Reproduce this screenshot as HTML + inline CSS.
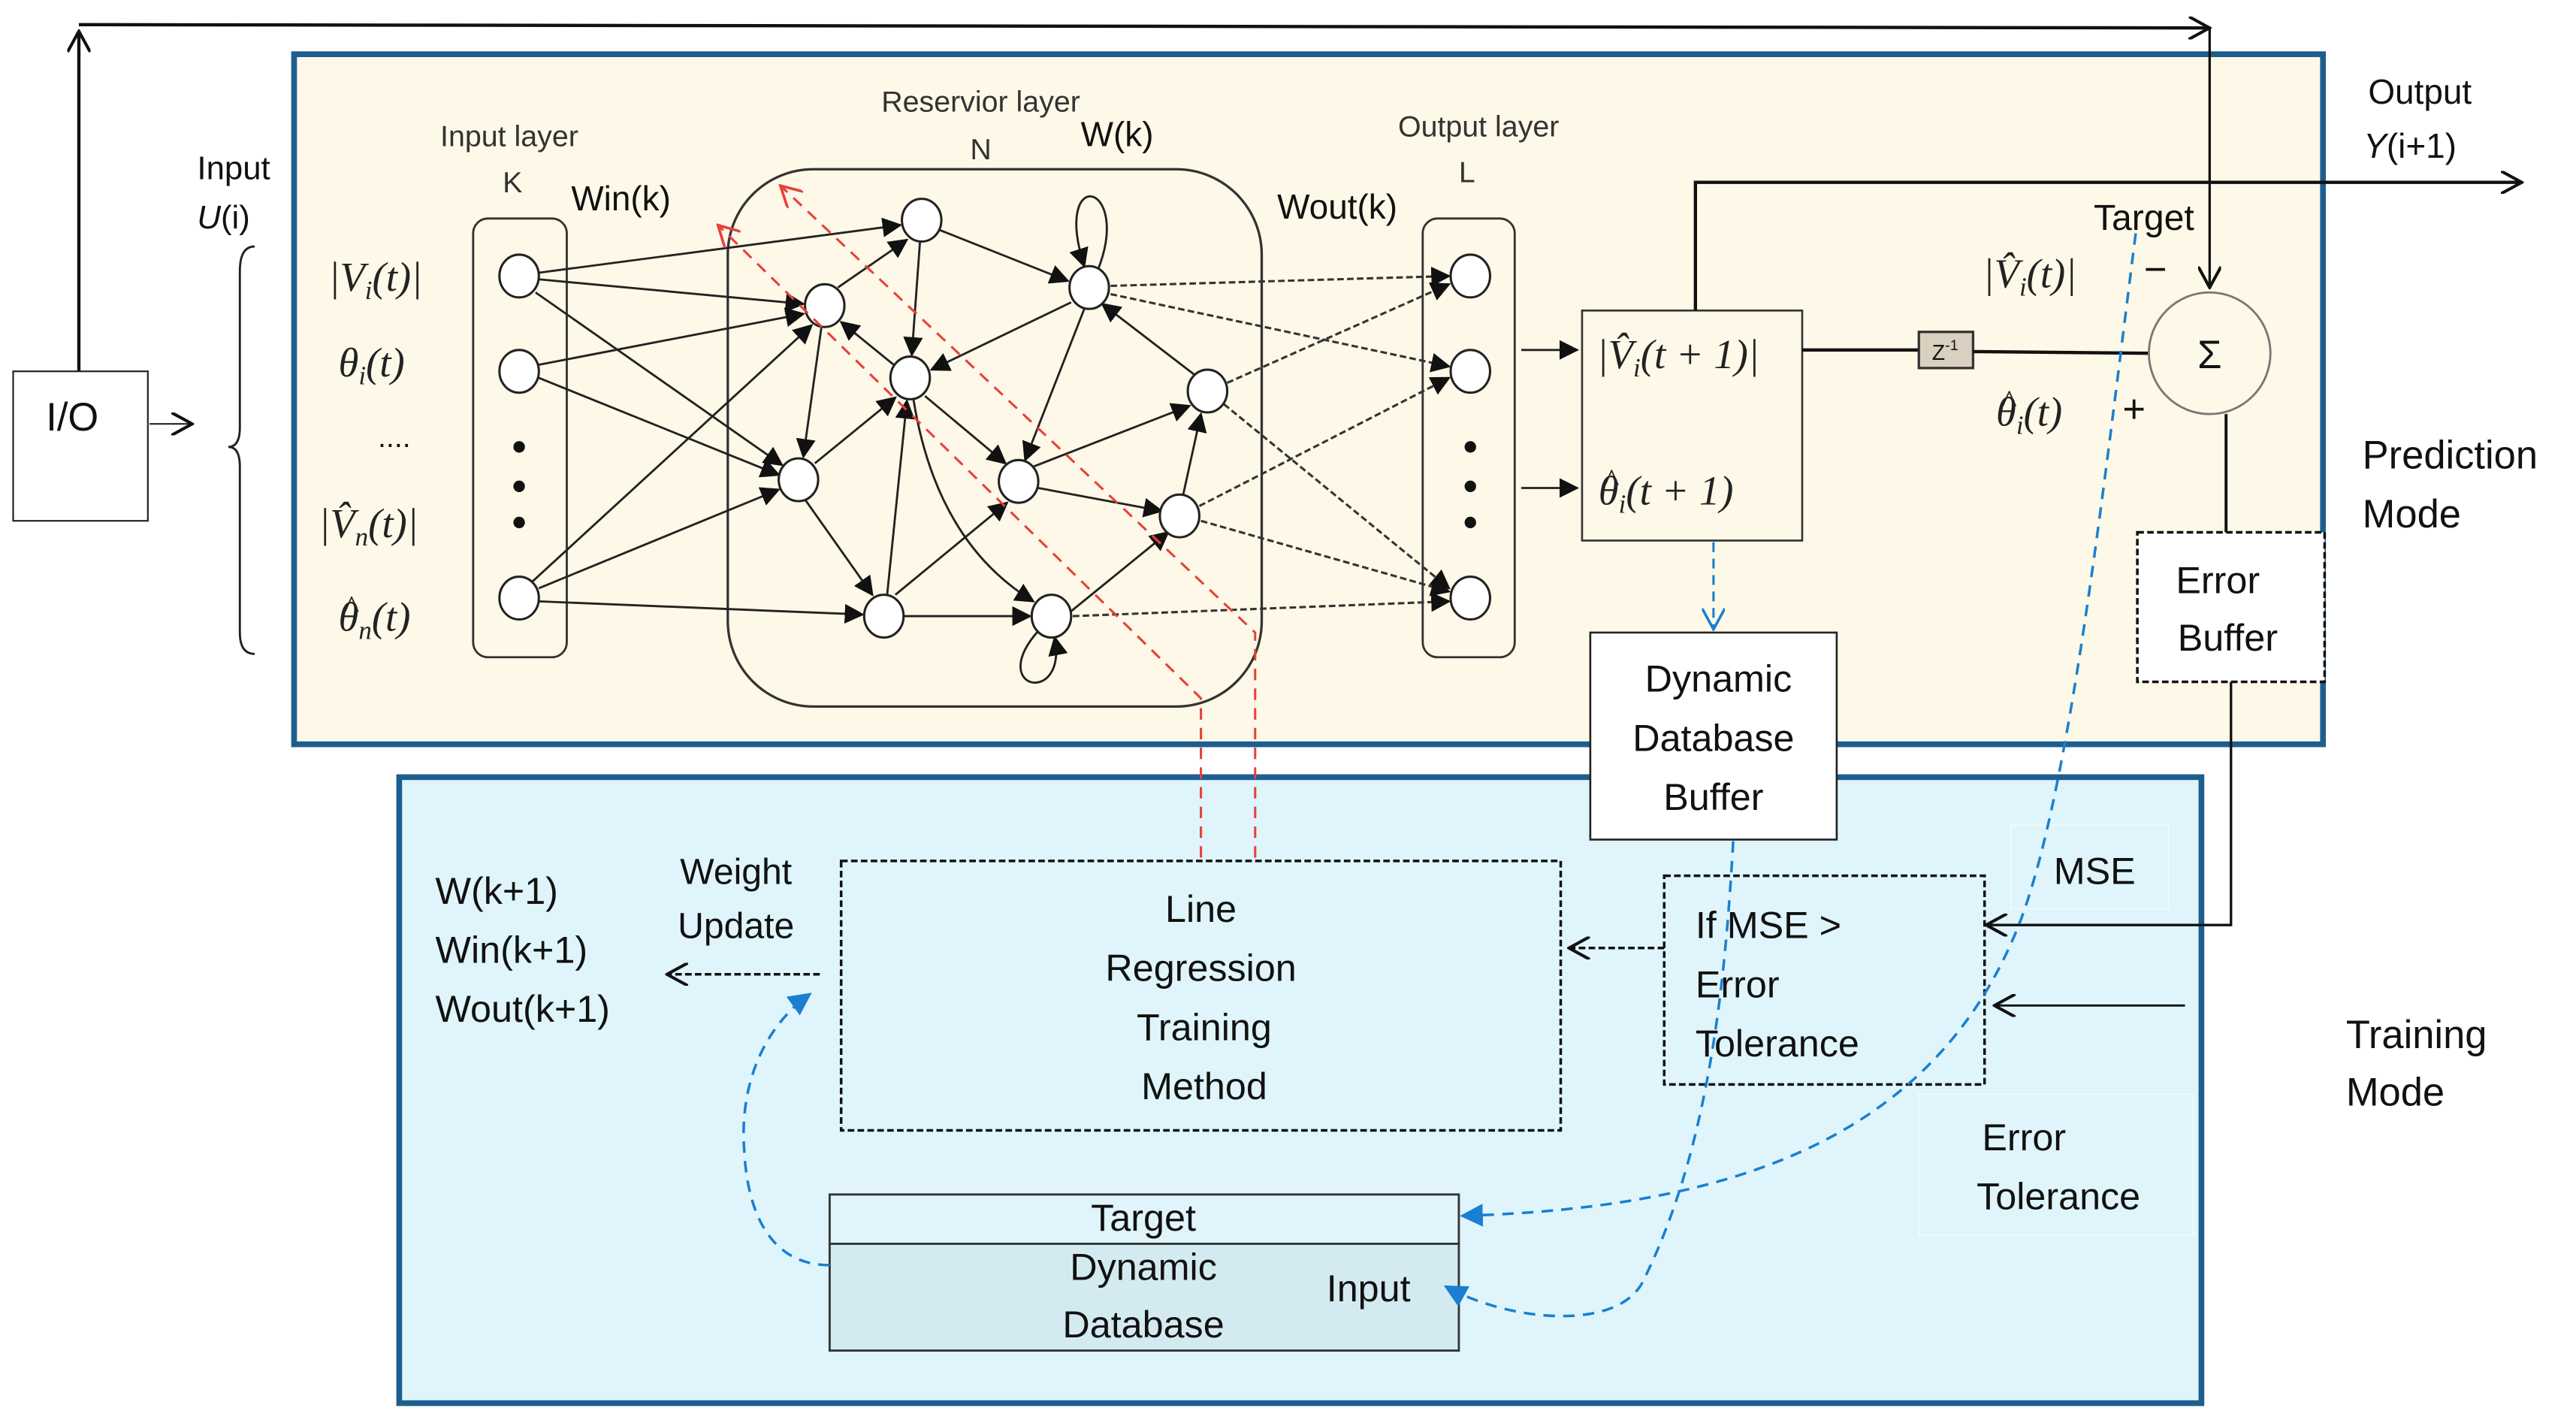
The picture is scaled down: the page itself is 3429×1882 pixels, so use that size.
<!DOCTYPE html>
<html><head><meta charset="utf-8"><style>
html,body{margin:0;padding:0;background:#fff}
svg{display:block}
text{font-family:"Liberation Sans",sans-serif;fill:#111}
.m{font-family:"Liberation Serif",serif;font-style:italic;fill:#222}
.h{font-family:"Liberation Serif",serif;fill:#222}
.s{font-family:"Liberation Sans",sans-serif;fill:#333}
</style></head><body>
<svg width="3429" height="1882" viewBox="0 0 1568 860.6" xmlns="http://www.w3.org/2000/svg">
<defs>
<marker id="fa" viewBox="0 0 10 10" refX="9" refY="5" markerWidth="12" markerHeight="12" orient="auto" markerUnits="userSpaceOnUse"><path d="M0,0 L10,5 L0,10 z" fill="#111"/></marker>
<marker id="oa" viewBox="0 0 12 12" refX="11" refY="6" markerWidth="14" markerHeight="14" orient="auto" markerUnits="userSpaceOnUse"><path d="M0,0 L11,6 L0,12" fill="none" stroke="#111" stroke-width="1.6"/></marker>
<marker id="ra" viewBox="0 0 12 12" refX="11" refY="6" markerWidth="14" markerHeight="14" orient="auto" markerUnits="userSpaceOnUse"><path d="M0,0 L11,6 L0,12" fill="none" stroke="#e8403a" stroke-width="1.4"/></marker>
<marker id="ba" viewBox="0 0 12 12" refX="11" refY="6" markerWidth="14" markerHeight="14" orient="auto" markerUnits="userSpaceOnUse"><path d="M0,0 L11,6 L0,12" fill="none" stroke="#1a7fd0" stroke-width="1.4"/></marker>
<marker id="bf" viewBox="0 0 10 10" refX="9" refY="5" markerWidth="14" markerHeight="14" orient="auto" markerUnits="userSpaceOnUse"><path d="M0,0 L10,5 L0,10 z" fill="#1a7fd0"/></marker>
</defs>

<line x1="48" y1="15" x2="1345" y2="17" stroke="#111" stroke-width="2" marker-end="url(#oa)"/>
<line x1="48" y1="226" x2="48" y2="19" stroke="#111" stroke-width="2" marker-end="url(#oa)"/>
<rect x="8" y="226" width="82" height="91" fill="#fff" stroke="#222" stroke-width="1"/>
<text x="44" y="262" font-size="24" text-anchor="middle">I/O</text>
<line x1="91" y1="258" x2="117" y2="258" stroke="#222" stroke-width="1" marker-end="url(#oa)"/>
<text x="120" y="109" font-size="20">Input</text>
<text x="120" y="139" font-size="20"><tspan font-style="italic">U</tspan>(i)</text>
<path d="M155,150 Q146,150 146,165 L146,260 Q146,272 139,272 Q146,272 146,284 L146,385 Q146,398 155,398" fill="none" stroke="#222" stroke-width="1.3"/>

<rect x="179" y="33" width="1235" height="420" fill="#fdf8e7" stroke="#1d5e8e" stroke-width="3.5"/>
<rect x="243" y="473" width="1097" height="381" fill="#dff5fb" stroke="#1d5e8e" stroke-width="3.5"/>

<rect x="288" y="133" width="57" height="267" rx="9" fill="none" stroke="#333" stroke-width="1.3"/>
<rect x="866" y="133" width="56" height="267" rx="9" fill="none" stroke="#333" stroke-width="1.3"/>
<rect x="443" y="103" width="325" height="327" rx="52" fill="none" stroke="#333" stroke-width="1.5"/>

<text x="310" y="89" font-size="18" text-anchor="middle" class="s">Input layer</text>
<text x="312" y="117" font-size="18" text-anchor="middle" class="s">K</text>
<text x="378" y="128" font-size="21" text-anchor="middle">Win(k)</text>
<text x="597" y="68" font-size="18" text-anchor="middle" class="s">Reservior layer</text>
<text x="597" y="97" font-size="18" text-anchor="middle" class="s">N</text>
<text x="680" y="89" font-size="21" text-anchor="middle">W(k)</text>
<text x="900" y="83" font-size="18" text-anchor="middle" class="s">Output layer</text>
<text x="893" y="111" font-size="18" text-anchor="middle" class="s">L</text>
<text x="814" y="133" font-size="21" text-anchor="middle">Wout(k)</text>

<text x="200" y="177" font-size="25" class="m">|V<tspan font-size="16" dy="5">i</tspan><tspan dy="-5">(t)|</tspan></text>
<text x="206" y="229" font-size="25" class="m">θ<tspan font-size="16" dy="5">i</tspan><tspan dy="-5">(t)</tspan></text>
<text x="240" y="272" font-size="18" text-anchor="middle">....</text>
<text x="194" y="327" font-size="25" class="m">|V̂<tspan font-size="16" dy="5">n</tspan><tspan dy="-5">(t)|</tspan></text>
<text x="206" y="384" font-size="25" class="m">θ<tspan font-size="16" dy="5">n</tspan><tspan dy="-5">(t)</tspan></text>
<text x="214" y="376" font-size="20" class="h" text-anchor="middle">^</text>

<g stroke="#222" stroke-width="1.3" fill="none" marker-end="url(#fa)">
<line x1="328" y1="166" x2="548" y2="137"/>
<line x1="328" y1="170" x2="489" y2="185"/>
<line x1="326" y1="178" x2="476" y2="283"/>
<line x1="328" y1="222" x2="489" y2="191"/>
<line x1="328" y1="230" x2="474" y2="289"/>
<line x1="324" y1="354" x2="494" y2="198"/>
<line x1="328" y1="358" x2="474" y2="298"/>
<line x1="328" y1="366" x2="525" y2="374"/>
<line x1="510" y1="175" x2="552" y2="146"/>
<line x1="560" y1="147" x2="555" y2="216"/>
<line x1="572" y1="140" x2="650" y2="171"/>
<line x1="652" y1="184" x2="567" y2="225"/>
<line x1="500" y1="199" x2="489" y2="278"/>
<line x1="544" y1="222" x2="512" y2="196"/>
<line x1="496" y1="282" x2="545" y2="242"/>
<line x1="490" y1="304" x2="531" y2="362"/>
<line x1="540" y1="362" x2="552" y2="244"/>
<line x1="563" y1="241" x2="612" y2="282"/>
<line x1="545" y1="362" x2="613" y2="306"/>
<line x1="632" y1="297" x2="707" y2="311"/>
<line x1="629" y1="284" x2="724" y2="247"/>
<line x1="660" y1="188" x2="624" y2="280"/>
<line x1="727" y1="228" x2="671" y2="185"/>
<line x1="720" y1="302" x2="731" y2="252"/>
<line x1="549" y1="375" x2="627" y2="375"/>
<line x1="652" y1="372" x2="711" y2="324"/>
<path d="M556,243 Q570,330 629,366"/>
<path d="M668,165 C690,110 640,100 660,162"/>
<path d="M632,384 C600,420 650,430 642,388"/>
</g>
<g stroke="#333" stroke-width="1.4" stroke-dasharray="4,2" fill="none" marker-end="url(#fa)">
<line x1="676" y1="174" x2="882" y2="168"/>
<line x1="676" y1="179" x2="882" y2="223"/>
<line x1="747" y1="233" x2="882" y2="173"/>
<line x1="745" y1="246" x2="882" y2="358"/>
<line x1="730" y1="308" x2="882" y2="230"/>
<line x1="731" y1="317" x2="882" y2="360"/>
<line x1="653" y1="375" x2="882" y2="366"/>
</g>
<g fill="#fff" stroke="#222" stroke-width="1.4">
<ellipse cx="316" cy="168" rx="12" ry="13"/><ellipse cx="316" cy="226" rx="12" ry="13"/><ellipse cx="316" cy="364" rx="12" ry="13"/>
<ellipse cx="895" cy="168" rx="12" ry="13"/><ellipse cx="895" cy="226" rx="12" ry="13"/><ellipse cx="895" cy="364" rx="12" ry="13"/>
<ellipse cx="561" cy="134" rx="12" ry="13"/><ellipse cx="502" cy="186" rx="12" ry="13"/><ellipse cx="554" cy="230" rx="12" ry="13"/>
<ellipse cx="663" cy="175" rx="12" ry="13"/><ellipse cx="486" cy="292" rx="12" ry="13"/><ellipse cx="620" cy="293" rx="12" ry="13"/>
<ellipse cx="735" cy="238" rx="12" ry="13"/><ellipse cx="718" cy="314" rx="12" ry="13"/><ellipse cx="538" cy="375" rx="12" ry="13"/>
<ellipse cx="640" cy="375" rx="12" ry="13"/>
</g>
<g fill="#111"><circle cx="316" cy="272" r="3.5"/><circle cx="316" cy="296" r="3.5"/><circle cx="316" cy="318" r="3.5"/>
<circle cx="895" cy="272" r="3.5"/><circle cx="895" cy="296" r="3.5"/><circle cx="895" cy="318" r="3.5"/></g>

<g stroke="#e8403a" stroke-width="1.4" stroke-dasharray="7,5" fill="none" marker-end="url(#ra)">
<path d="M731,522 L731,425 L437,137"/>
<path d="M764,522 L764,385 L475,113"/>
</g>

<line x1="926" y1="213" x2="960" y2="213" stroke="#222" stroke-width="1.3" marker-end="url(#fa)"/>
<line x1="926" y1="297" x2="960" y2="297" stroke="#222" stroke-width="1.3" marker-end="url(#fa)"/>
<rect x="963" y="189" width="134" height="140" fill="none" stroke="#333" stroke-width="1.2"/>
<text x="972" y="224" font-size="25" class="m">|V̂<tspan font-size="16" dy="5">i</tspan><tspan dy="-5">(t + 1)|</tspan></text>
<text x="973" y="307" font-size="25" class="m">θ<tspan font-size="16" dy="5">i</tspan><tspan dy="-5">(t + 1)</tspan></text>
<text x="981" y="299" font-size="20" class="h" text-anchor="middle">^</text>
<polyline points="1032,189 1032,111 1535,111" fill="none" stroke="#111" stroke-width="2" marker-end="url(#oa)"/>
<line x1="1097" y1="213" x2="1168" y2="213" stroke="#111" stroke-width="2"/>
<rect x="1168" y="202" width="33" height="22" fill="#d9d0c0" stroke="#333" stroke-width="1.5"/>
<text x="1184" y="219" font-size="13" text-anchor="middle">Z<tspan font-size="9" dy="-6">-1</tspan></text>
<line x1="1201" y1="214" x2="1308" y2="215" stroke="#111" stroke-width="2"/>
<circle cx="1345" cy="215" r="37" fill="none" stroke="#777" stroke-width="1.3"/>
<text x="1345" y="224" font-size="24" text-anchor="middle">Σ</text>
<line x1="1345" y1="17" x2="1345" y2="175" stroke="#111" stroke-width="1.5" marker-end="url(#oa)"/>
<text x="1305" y="140" font-size="22" text-anchor="middle">Target</text>
<text x="1207" y="175" font-size="25" class="m">|V̂<tspan font-size="16" dy="5">i</tspan><tspan dy="-5">(t)|</tspan></text>
<text x="1312" y="172" font-size="24" text-anchor="middle">−</text>
<text x="1215" y="259" font-size="25" class="m">θ<tspan font-size="16" dy="5">i</tspan><tspan dy="-5">(t)</tspan></text>
<text x="1223" y="251" font-size="20" class="h" text-anchor="middle">^</text>
<text x="1299" y="257" font-size="24" text-anchor="middle">+</text>
<line x1="1355" y1="252" x2="1355" y2="324" stroke="#111" stroke-width="1.8"/>
<rect x="1301" y="324" width="114" height="91" fill="#fff" stroke="#111" stroke-width="1.6" stroke-dasharray="4,2"/>
<text x="1350" y="361" font-size="23" text-anchor="middle">Error</text>
<text x="1356" y="396" font-size="23" text-anchor="middle">Buffer</text>
<polyline points="1358,415 1358,563 1209,563" fill="none" stroke="#111" stroke-width="1.5" marker-end="url(#oa)"/>
<line x1="1330" y1="612" x2="1214" y2="612" stroke="#111" stroke-width="1.3" marker-end="url(#oa)"/>

<text x="1473" y="63" font-size="21" text-anchor="middle">Output</text>
<text x="1467" y="96" font-size="21" text-anchor="middle"><tspan font-style="italic">Y</tspan>(i+1)</text>
<text x="1438" y="285" font-size="24">Prediction</text>
<text x="1438" y="321" font-size="24">Mode</text>
<text x="1428" y="638" font-size="24">Training</text>
<text x="1428" y="673" font-size="24">Mode</text>

<line x1="1043" y1="330" x2="1043" y2="383" stroke="#1a7fd0" stroke-width="1.4" stroke-dasharray="6,4" marker-end="url(#ba)"/>
<rect x="968" y="385" width="150" height="126" fill="#fff" stroke="#222" stroke-width="1.2"/>
<text x="1046" y="421" font-size="23" text-anchor="middle">Dynamic</text>
<text x="1043" y="457" font-size="23" text-anchor="middle">Database</text>
<text x="1043" y="493" font-size="23" text-anchor="middle">Buffer</text>

<rect x="1224" y="502" width="96" height="51" fill="none" stroke="#eefafd" stroke-width="1"/>
<text x="1275" y="538" font-size="23" text-anchor="middle">MSE</text>
<rect x="1168" y="666" width="167" height="86" fill="none" stroke="#eefafd" stroke-width="1"/>
<text x="1232" y="700" font-size="23" text-anchor="middle">Error</text>
<text x="1253" y="736" font-size="23" text-anchor="middle">Tolerance</text>

<rect x="512" y="524" width="438" height="164" fill="none" stroke="#111" stroke-width="1.6" stroke-dasharray="4,2"/>
<text x="731" y="561" font-size="23" text-anchor="middle">Line</text>
<text x="731" y="597" font-size="23" text-anchor="middle">Regression</text>
<text x="733" y="633" font-size="23" text-anchor="middle">Training</text>
<text x="733" y="669" font-size="23" text-anchor="middle">Method</text>
<line x1="499" y1="593" x2="406" y2="593" stroke="#111" stroke-width="1.6" stroke-dasharray="4,2" marker-end="url(#oa)"/>
<text x="265" y="550" font-size="23">W(k+1)</text>
<text x="265" y="586" font-size="23">Win(k+1)</text>
<text x="265" y="622" font-size="23">Wout(k+1)</text>
<text x="448" y="538" font-size="22" text-anchor="middle">Weight</text>
<text x="448" y="571" font-size="22" text-anchor="middle">Update</text>

<rect x="1013" y="533" width="195" height="127" fill="none" stroke="#111" stroke-width="1.6" stroke-dasharray="4,2"/>
<text x="1032" y="571" font-size="23">If MSE &gt;</text>
<text x="1032" y="607" font-size="23">Error</text>
<text x="1032" y="643" font-size="23">Tolerance</text>
<line x1="1013" y1="577" x2="955" y2="577" stroke="#111" stroke-width="1.6" stroke-dasharray="4,2" marker-end="url(#oa)"/>

<rect x="505" y="727" width="383" height="30" fill="#dff5fb" stroke="#333" stroke-width="1.3"/>
<rect x="505" y="757" width="383" height="65" fill="#d3eaf1" stroke="#333" stroke-width="1.3"/>
<text x="696" y="749" font-size="23" text-anchor="middle">Target</text>
<text x="696" y="779" font-size="23" text-anchor="middle">Dynamic</text>
<text x="696" y="814" font-size="23" text-anchor="middle">Database</text>
<text x="833" y="792" font-size="23" text-anchor="middle">Input</text>

<g stroke="#1a7fd0" stroke-width="1.6" stroke-dasharray="7,5" fill="none">
<path d="M1300,142 C1280,300 1260,480 1230,560 C1180,690 1060,735 890,740" marker-end="url(#bf)"/>
<path d="M1055,512 C1050,600 1040,700 1000,780 C985,810 920,805 880,783" marker-end="url(#bf)"/>
<path d="M505,770 C470,770 455,740 453,700 C450,660 465,625 493,605" marker-end="url(#bf)"/>
</g>
</svg>
</body></html>
